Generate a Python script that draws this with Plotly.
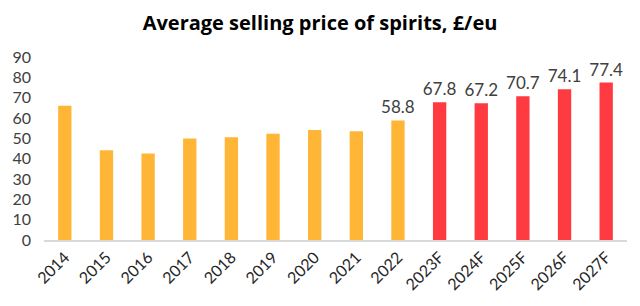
import plotly.graph_objects as go

categories = ["2014", "2015", "2016", "2017", "2018", "2019", "2020", "2021", "2022",
              "2023F", "2024F", "2025F", "2026F", "2027F"]
values = [66.0, 44.1, 42.6, 49.9, 50.5, 52.3, 54.1, 53.5, 58.8, 67.8, 67.2, 70.7, 74.1, 77.4]
labels = ["", "", "", "", "", "", "", "", "58.8", "67.8", "67.2", "70.7", "74.1", "77.4"]
is_forecast = [c.endswith("F") for c in categories]

ORANGE = "#FFB637"
RED = "#FF3A40"
colors = [RED if f else ORANGE for f in is_forecast]

fig = go.Figure(go.Bar(
    x=categories, y=values,
    marker=dict(color=colors, line=dict(width=0)),
    text=labels, textposition="outside", constraintext="none",
    textfont=dict(family="Lato, sans-serif", size=17, color="#404040"),
    cliponaxis=False,
))

fig.update_layout(
    width=640, height=306,
    margin=dict(l=44, r=13, t=57, b=66),
    paper_bgcolor="white", plot_bgcolor="white",
    bargap=0.68,
    showlegend=False,
    title=dict(text="<b>Average selling price of spirits, £/eu</b>",
               x=0.5, xanchor="center", y=0.925, yanchor="middle",
               font=dict(family="Open Sans, sans-serif", size=20, color="black")),
    xaxis=dict(tickangle=-45, showgrid=False, showline=True, linecolor="#D9D9D9",
               linewidth=1.5, ticks="",
               tickfont=dict(family="Lato, sans-serif", size=16, color="#262626")),
    yaxis=dict(range=[0, 90], dtick=10, showgrid=False, zeroline=False, showline=False,
               ticks="", ticklabelstandoff=12,
               tickfont=dict(family="Lato, sans-serif", size=16, color="#404040")),
)

fig.write_html("out.html")
